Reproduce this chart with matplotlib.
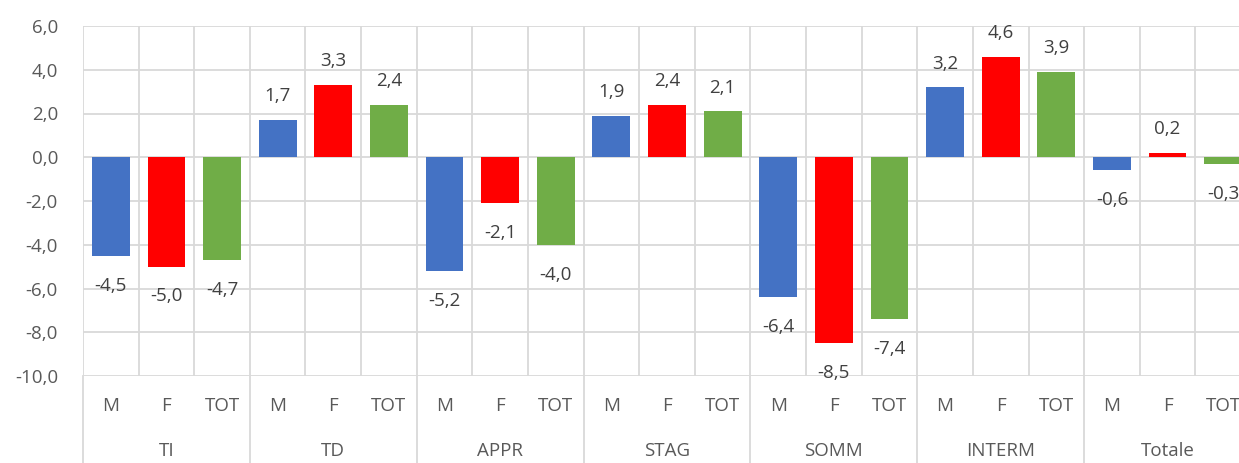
import numpy as np
import matplotlib.pyplot as plt
from matplotlib.ticker import FuncFormatter, MultipleLocator

plt.rcParams['font.family'] = ['Open Sans', 'DejaVu Sans']

gruppi = ['TI', 'TD', 'APPR', 'STAG', 'SOMM', 'INTERM', 'Totale']
sotto = ['M', 'F', 'TOT']
valori_M = [-4.5, 1.7, -5.2, 1.9, -6.4, 3.2, -0.6]
valori_F = [-5.0, 3.3, -2.1, 2.4, -8.5, 4.6, 0.2]
valori_TOT = [-4.7, 2.4, -4.0, 2.1, -7.4, 3.9, -0.3]
colori = ['#4472C4', '#FF0000', '#70AD47']

griglia = '#D9D9D9'
testo = '#595959'
fs = 13.5

fig = plt.figure(figsize=(12.39, 4.63), dpi=100)
# l'area del grafico esce a destra come nell'originale
ax = fig.add_axes([83/1239, 87/463, 1168/1239, 350/463])

serie = [valori_M, valori_F, valori_TOT]
n = len(gruppi)
for j, vals in enumerate(serie):
    xs = np.arange(n)*3 + j
    bars = ax.bar(xs, vals, width=0.68, color=colori[j], zorder=3)
    for x, v in zip(xs, vals):
        lab = ('%.1f' % v).replace('.', ',')
        if v >= 0:
            ax.annotate(lab, (x, v), xytext=(0, 10.5), textcoords='offset points',
                        ha='center', va='bottom', fontsize=fs, color='#404040')
        else:
            ax.annotate(lab, (x, v), xytext=(0, -15), textcoords='offset points',
                        ha='center', va='top', fontsize=fs, color='#404040')

ax.set_ylim(-10, 6)
ax.set_xlim(-0.5, 3*n - 0.5)
ax.yaxis.set_major_locator(MultipleLocator(2))
ax.yaxis.set_major_formatter(FuncFormatter(lambda v, p: ('%.1f' % v).replace('.', ',')))
ax.tick_params(axis='y', length=0, pad=18, labelsize=fs, labelcolor=testo)

ax.set_xticks(np.arange(3*n))
ax.set_xticklabels(sotto*n)
ax.tick_params(axis='x', length=0, pad=15, labelsize=fs, labelcolor=testo)

ax.grid(axis='y', color=griglia, linewidth=1.3, zorder=0)
for xb in np.arange(-0.5, 3*n, 1):
    ax.axvline(xb, color=griglia, linewidth=1.3, zorder=0)
for s in ax.spines.values():
    s.set_visible(False)

# etichette dei gruppi e separatori sotto l'asse
tr = ax.get_xaxis_transform()
for g in range(n + 1):
    ax.plot([3*g - 0.5, 3*g - 0.5], [0, -0.26], transform=tr, color=griglia,
            linewidth=1.3, clip_on=False)
for g, nome in enumerate(gruppi):
    ax.text(3*g + 1, -0.215, nome, transform=tr, ha='center', va='center',
            fontsize=fs, color=testo)

fig.savefig('out.png', dpi=100)
